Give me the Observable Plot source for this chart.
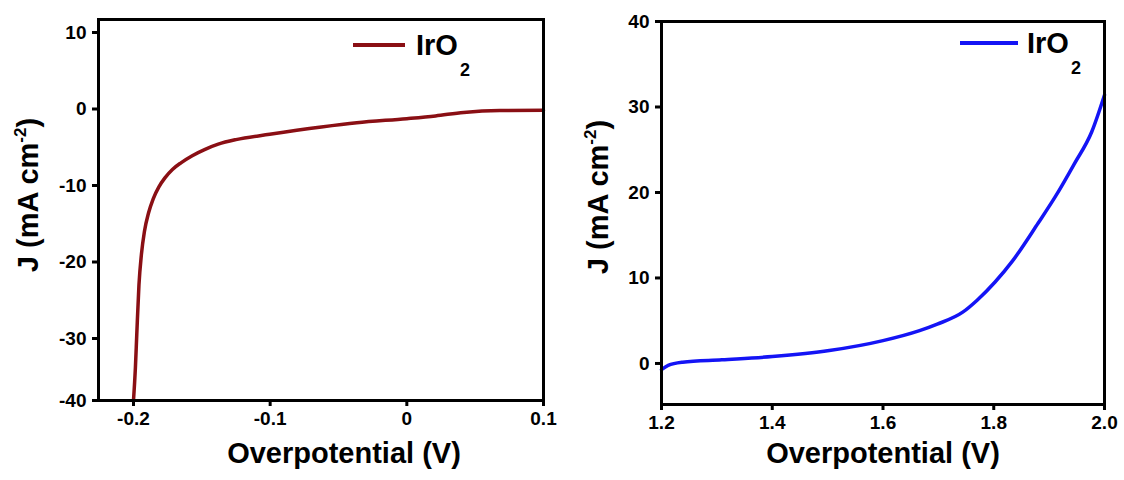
<!DOCTYPE html>
<html>
<head>
<meta charset="utf-8">
<script src="https://cdn.jsdelivr.net/npm/d3@7"></script>
<script src="https://cdn.jsdelivr.net/npm/@observablehq/plot@0.6"></script>
<style>
  body { margin: 0; background: #fff; }
  #fig { position: relative; width: 1124px; height: 480px; font-family: "Liberation Sans", Arial, sans-serif; }
  .panel { position: absolute; top: 0; }
</style>
</head>
<body>
<div id="fig"></div>
<script>
// Cathodic (HER) polarization curve of IrO2
const herPotential = [-0.2, -0.1986, -0.1976, -0.196, -0.1942, -0.192, -0.189, -0.1855, -0.1815, -0.177, -0.1715, -0.165, -0.157, -0.148, -0.138, -0.125, -0.1003, -0.0625, -0.0366, 0, 0.021, 0.0416, 0.068, 0.1];
const herCurrent   = [-40, -34.7, -29.5, -23, -19, -16, -13.6, -11.7, -10.2, -9.0, -7.9, -7.0, -6.1, -5.3, -4.6, -4.0, -3.3, -2.35, -1.8, -1.26, -0.9, -0.45, -0.2, -0.17];

// Anodic (OER) polarization curve of IrO2
const oerPotential = [1.2, 1.212, 1.238, 1.309, 1.4, 1.503, 1.6, 1.666, 1.698, 1.744, 1.77, 1.802, 1.834, 1.88, 1.912, 1.945, 1.977, 2.0];
const oerCurrent   = [-0.73, -0.23, 0.15, 0.43, 0.81, 1.51, 2.67, 3.84, 4.6, 6.0, 7.4, 9.5, 12.0, 16.4, 19.6, 23.3, 27.1, 31.4];

// Axis ticks
const herTicksX = [-0.2, -0.1, 0, 0.1];
const herTicksY = [10, 0, -10, -20, -30, -40];
const oerTicksX = [1.2, 1.4, 1.6, 1.8, 2.0];
const oerTicksY = [0, 10, 20, 30, 40];

// Labels
const xTitle = "Overpotential (V)";
const yTitle = "J (mA cm-2)";
const seriesName = ["IrO", "2"];

const FONT = '"Liberation Sans", Arial, Helvetica, sans-serif';

function axisStyle(extra) {
  return Object.assign({ tickSize: 6, strokeWidth: 3, fontSize: 19, fontWeight: "bold", label: null }, extra);
}

function panel(opts) {
  return Plot.plot({
    width: 562,
    height: 480,
    marginLeft: opts.margin[0],
    marginRight: opts.margin[1],
    marginTop: opts.margin[2],
    marginBottom: opts.margin[3],
    style: { fontFamily: FONT, color: "#000", background: "transparent", overflow: "visible" },
    x: opts.x,
    y: opts.y,
    marks: [
      Plot.axisX(opts.ticksX, axisStyle({ tickPadding: 5, tickFormat: opts.fmtX })),
      Plot.axisY(opts.ticksY, axisStyle({ tickPadding: 6, tickFormat: d => String(d) })),
      Plot.line(opts.J, { x: opts.V, y: opts.J, stroke: opts.color, strokeWidth: 3.5, curve: "monotone-x" }),
      Plot.frame({ stroke: "#000", strokeWidth: 3 }),
      Plot.text([xTitle], { frameAnchor: "bottom", dx: opts.xTitleD[0], dy: opts.xTitleD[1], fontSize: 29, fontWeight: "bold" }),
      Plot.text([yTitle], { frameAnchor: "left", rotate: -90, textAnchor: "middle", dx: opts.yTitleD[0], dy: opts.yTitleD[1], fontSize: 29, fontWeight: "bold" })
    ]
  });
}

// Rewrite the y title so that "-2" is a superscript
function superscriptTitle(svg) {
  d3.select(svg).selectAll("text").each(function () {
    if (this.textContent !== yTitle) return;
    const t = d3.select(this);
    t.text(null);
    t.append("tspan").text("J (mA cm");
    t.append("tspan").attr("font-size", 17).attr("dy", -12).text("-2");
    t.append("tspan").attr("dy", 12).text(")");
  });
}

// Legend: line swatch and series name with subscript
function legend(svg, lg) {
  const g = d3.select(svg).append("g").attr("font-family", FONT).attr("text-anchor", "start");
  g.append("line")
    .attr("x1", lg.x1).attr("x2", lg.x2).attr("y1", lg.y).attr("y2", lg.y)
    .attr("stroke", lg.color).attr("stroke-width", 4);
  const t = g.append("text").attr("x", lg.tx).attr("y", lg.ty)
    .attr("text-anchor", "start")
    .attr("font-size", 29).attr("font-weight", "bold").attr("fill", "#000");
  t.append("tspan").text(seriesName[0]);
  t.append("tspan").attr("font-size", 18).attr("dx", 2).attr("dy", 21).text(seriesName[1]);
}

const fig = document.getElementById("fig");

const left = panel({
  margin: [98, 19, 19, 80],
  x: { domain: [-0.2256, 0.1] },
  y: { type: "linear", domain: [-40, -30, 11.7], range: [400, 338, 19] },
  ticksX: herTicksX,
  ticksY: herTicksY,
  fmtX: d => (d === 0 ? "0" : d.toFixed(1)),
  V: herPotential,
  J: herCurrent,
  color: "#8a0f14",
  xTitleD: [23, 62],
  yTitleD: [-70, -15]
});
superscriptTitle(left);
legend(left, { x1: 353, x2: 405, y: 45, tx: 416, ty: 55, color: "#8a0f14" });

const right = panel({
  margin: [99, 20, 21, 76],
  x: { domain: [1.2, 2.0] },
  y: { domain: [-4.8, 40] },
  ticksX: oerTicksX,
  ticksY: oerTicksY,
  fmtX: d => d.toFixed(1),
  V: oerPotential,
  J: oerCurrent,
  color: "#1414f5",
  xTitleD: [0, 58],
  yTitleD: [-63, -16]
});
superscriptTitle(right);
legend(right, { x1: 398, x2: 456, y: 43, tx: 465, ty: 53, color: "#1414f5" });

left.classList.add("panel");
left.style.left = "0px";
right.classList.add("panel");
right.style.left = "562px";
fig.appendChild(left);
fig.appendChild(right);
</script>
</body>
</html>
